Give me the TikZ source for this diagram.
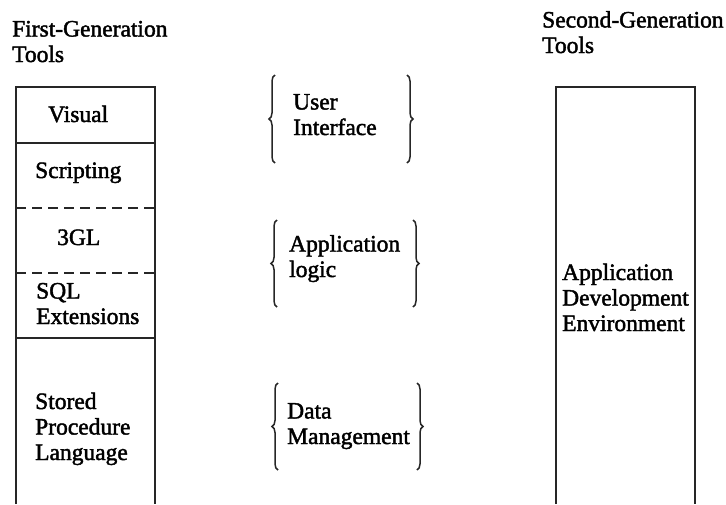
\documentclass[tikz,border=0pt]{standalone}
\usepackage{fontspec}
\setmainfont{Liberation Serif}[FakeBold=1.8]
\usetikzlibrary{positioning, decorations.pathreplacing}

\begin{document}
\begin{tikzpicture}[
    x=1pt, y=-1pt,
    font=\fontsize{23.5}{25.5}\selectfont,
    box/.style={line width=1.7pt, draw=black!85},
    divider/.style={line width=1.7pt, draw=black!85},
    layer/.style={anchor=base west, align=left, inner sep=0pt},
    bracket/.style={decorate, decoration={brace, amplitude=6pt}, line width=1.5pt, draw=black!85}
]

\useasboundingbox (0,0) rectangle (726,504);

% Headings (anchored on the baseline of the last line)
\node[layer] (first_title) at (12,62) {First-Generation\\Tools};
\node[layer] (second_title) at (542,53) {Second-Generation\\Tools};

% First-generation tool stack (open at the bottom)
\draw[box] (16,504) -- (16,87) -- (155,87) -- (155,504);
\draw[divider] (16,143) -- (155,143);
\draw[divider, dash pattern=on 10pt off 6pt] (16,208) -- (155,208);
\draw[divider, dash pattern=on 10pt off 6pt] (16,273) -- (155,273);
\draw[divider] (16,338) -- (155,338);

\node[layer] (visual) at (48,122) {Visual};
\node[layer] (scripting) at (35,178) {Scripting};
\node[layer] (gl3) at (57,245) {3GL};
\node[layer] (sql) at (36,324) {SQL\\Extensions};
\node[layer] (stored) at (35,460) {Stored\\Procedure\\Language};

% Layers in the middle
\node[layer] (ui) at (293,135) {User\\Interface};
\draw[bracket] (275,163) -- (275,75);
\draw[bracket] (407,75) -- (407,163);

\node[layer] (logic) at (289,277) {Application\\logic};
\draw[bracket] (277,307) -- (277,220);
\draw[bracket] (413,220) -- (413,307);

\node[layer] (data) at (287,444) {Data\\Management};
\draw[bracket] (278,470) -- (278,383);
\draw[bracket] (417,383) -- (417,470);

% Second-generation tool
\draw[box] (556,504) -- (556,87) -- (695,87) -- (695,504);
\node[layer] (ade) at (562,331) {Application\\Development\\Environment};

\end{tikzpicture}
\end{document}
